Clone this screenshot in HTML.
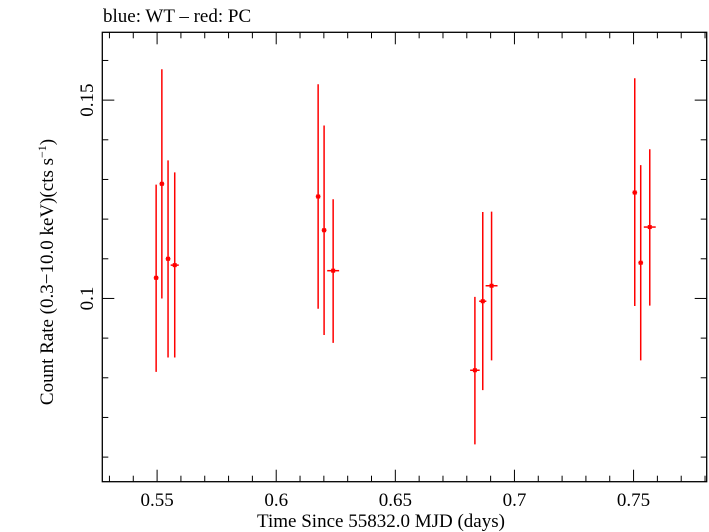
<!DOCTYPE html>
<html><head><meta charset="utf-8"><style>
html,body{margin:0;padding:0;background:#fff;}
svg{display:block;font-family:"Liberation Serif",serif;}
</style></head><body>
<svg id="chart" width="709" height="532" viewBox="0 0 709 532">
<text x="103" y="22" font-size="19" fill="#000">blue: WT – red: PC</text>
<rect x="102.3" y="32.3" width="604.4" height="449.4" fill="none" stroke="#000" stroke-width="1.3"/>
<g id="axes"></g>
<g id="marks"></g>
<text x="381" y="527" font-size="19" text-anchor="middle">Time Since 55832.0 MJD (days)</text>
<text transform="translate(53,272) rotate(-90)" font-size="19" text-anchor="middle">Count Rate (0.3−10.0 keV)(cts s<tspan font-size="12" dy="-7">−1</tspan><tspan dy="7">)</tspan></text>
</svg>
<script>
const times=[0.5496,0.5520,0.5546,0.5574,0.6176,0.6201,0.6239,0.6834,0.6867,0.6904,0.7505,0.7530,0.7568];
const timeErr=[0.001,0.001,0.001,0.0017,0.001,0.001,0.0025,0.002,0.0015,0.0025,0.001,0.001,0.0025];
const rates=[0.1052,0.1289,0.1100,0.1084,0.1257,0.1172,0.1070,0.0819,0.0993,0.1032,0.1267,0.1090,0.1180];
const rateHi=[0.1287,0.1578,0.1348,0.1318,0.1540,0.1436,0.1250,0.1004,0.1218,0.1219,0.1555,0.1336,0.1376];
const rateLo=[0.0815,0.1000,0.0851,0.0851,0.0974,0.0908,0.0888,0.0632,0.0769,0.0844,0.0981,0.0844,0.0982];
const xTicks=[0.55,0.6,0.65,0.7,0.75];
const xTickLabels=["0.55","0.6","0.65","0.7","0.75"];
const yTicks=[0.1,0.15];
const yTickLabels=["0.1","0.15"];

const L=102.3,R=706.7,T=32.3,B=481.7;
const X0=0.527,X1=0.7807,Y0=0.0538,Y1=0.1671;
const sx=v=>L+(v-X0)/(X1-X0)*(R-L);
const sy=v=>B-(v-Y0)/(Y1-Y0)*(B-T);
const NS="http://www.w3.org/2000/svg";
const axes=document.getElementById('axes'),marks=document.getElementById('marks');
function mk(tag,attrs,parent){const e=document.createElementNS(NS,tag);for(const k in attrs)e.setAttribute(k,attrs[k]);parent.appendChild(e);return e;}
for(let i=0;i<=60;i++){const v=Math.round((0.53+i*0.01)*1000)/1000;if(v>X1)break;
 const major=xTicks.some(t=>Math.abs(t-v)<1e-6);const len=major?12:6;const x=sx(v);
 const t1=mk('line',{x1:x,x2:x,y1:B,y2:B-len,stroke:'#000','stroke-width':1},axes);
 
 
 const t2=mk('line',{x1:x,x2:x,y1:T,y2:T+len,stroke:'#000','stroke-width':1},axes);
 
 }
xTicks.forEach((v,i)=>{const t=mk('text',{x:sx(v),y:506,'font-size':19,'text-anchor':'middle'},axes);t.textContent=xTickLabels[i];
 
 });
for(let i=0;i<=20;i++){const v=Math.round((0.06+i*0.01)*1000)/1000;if(v>Y1)break;
 const major=yTicks.some(t=>Math.abs(t-v)<1e-6);const len=major?12:6;const y=sy(v);
 const t1=mk('line',{x1:L,x2:L+len,y1:y,y2:y,stroke:'#000','stroke-width':1},axes);
 
 
 const t2=mk('line',{x1:R,x2:R-len,y1:y,y2:y,stroke:'#000','stroke-width':1},axes);
 
 }
yTicks.forEach((v,i)=>{const t=mk('text',{transform:`translate(93,${sy(v)}) rotate(-90)`,'font-size':19,'text-anchor':'middle'},axes);t.textContent=yTickLabels[i];
 
 });
times.forEach((tv,i)=>{const g=mk('g',{},marks);
 
 
 const x=sx(tv),y=sy(rates[i]);
 mk('line',{x1:x,x2:x,y1:sy(rateHi[i]),y2:sy(rateLo[i]),stroke:'#f00','stroke-width':1.5},g);
 mk('line',{x1:sx(tv-timeErr[i]),x2:sx(tv+timeErr[i]),y1:y,y2:y,stroke:'#f00','stroke-width':1.5},g);
 mk('rect',{x:x-2,y:y-2,width:4,height:4,fill:'#f00'},g);});
</script>
</body></html>
